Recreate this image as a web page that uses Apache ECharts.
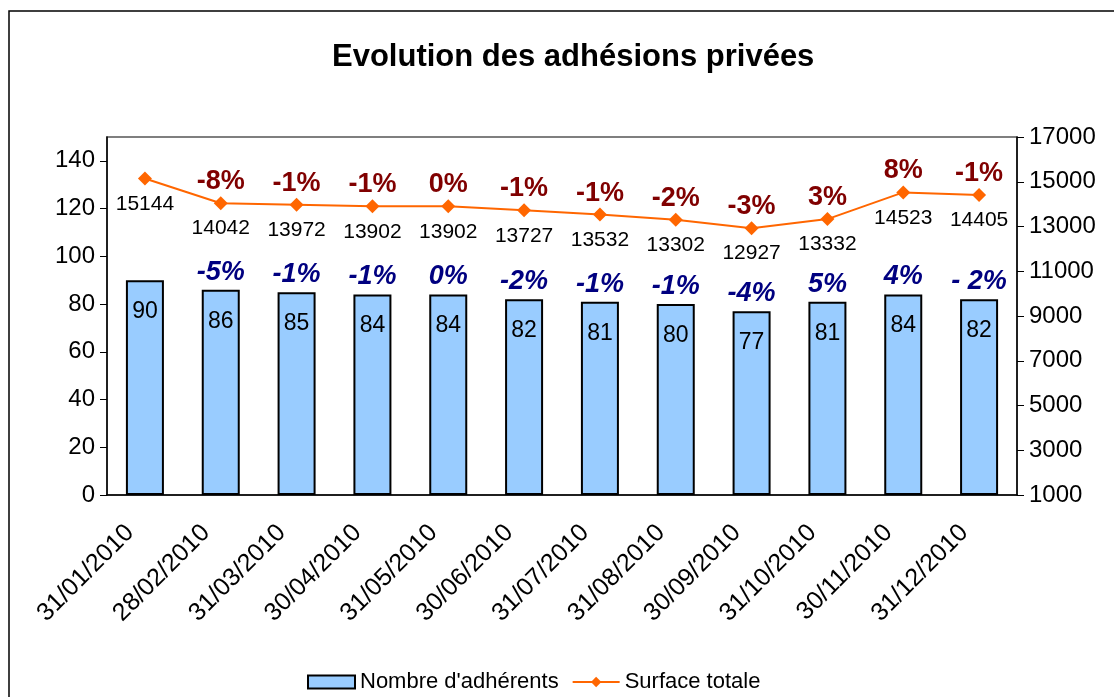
<!DOCTYPE html>
<html>
<head>
<meta charset="utf-8">
<script src="https://cdn.jsdelivr.net/npm/echarts@6/dist/echarts.min.js"></script>
<style>
  html, body { margin: 0; padding: 0; background: #fff; }
</style>
</head>
<body>
<div id="main" style="width: 1114px;height:697px;"></div>
<script>
// données du graphique
var dates = ['31/01/2010', '28/02/2010', '31/03/2010', '30/04/2010', '31/05/2010', '30/06/2010',
  '31/07/2010', '31/08/2010', '30/09/2010', '31/10/2010', '30/11/2010', '31/12/2010'];
var adherents = [90, 86, 85, 84, 84, 82, 81, 80, 77, 81, 84, 82];
var adherentsPct = ['', '-5%', '-1%', '-1%', '0%', '-2%', '-1%', '-1%', '-4%', '5%', '4%', '- 2%'];
var surface = [15144, 14042, 13972, 13902, 13902, 13727, 13532, 13302, 12927, 13332, 14523, 14405];
var surfacePct = ['', '-8%', '-1%', '-1%', '0%', '-1%', '-1%', '-2%', '-3%', '3%', '8%', '-1%'];
var leftTicks = [0, 20, 40, 60, 80, 100, 120, 140];
var rightTicks = [1000, 3000, 5000, 7000, 9000, 11000, 13000, 15000, 17000];

var font = 'Liberation Sans, Arial, sans-serif';
var myChart = echarts.init(document.getElementById('main'));

var option = {
  animation: false,
  title: {
    text: 'Evolution des adhésions privées',
    left: 327,
    top: 37,
    textStyle: { fontSize: 31, fontWeight: 'bold', fontFamily: font, color: '#000' }
  },
  graphic: [{
    type: 'rect',
    shape: { x: 9, y: 11, width: 1130, height: 720 },
    style: { fill: 'none', stroke: '#000', lineWidth: 1.5 },
    silent: true
  }],
  legend: {
    data: [{ name: "Nombre d'adhérents", icon: 'rect' }, 'Surface totale'],
    left: 302,
    top: 666,
    itemWidth: 47,
    itemHeight: 13,
    itemGap: 13,
    textStyle: { fontSize: 22, fontFamily: font, color: '#000' }
  },
  grid: {
    left: 107,
    right: 97,
    top: 137,
    bottom: 202,
    show: true,
    borderColor: '#555',
    borderWidth: 1.5
  },
  xAxis: {
    type: 'category',
    data: dates,
    axisLine: { lineStyle: { color: '#000', width: 1.5 } },
    axisTick: { length: 9, lineStyle: { color: '#000' } },
    axisLabel: {
      rotate: 45,
      margin: 19,
      padding: [0, 21, 0, 0],
      fontSize: 25,
      fontFamily: font,
      color: '#000'
    }
  },
  yAxis: [
    {
      type: 'value',
      min: 0,
      max: 150,
      position: 'left',
      splitLine: { show: false },
      axisLine: { show: true, lineStyle: { color: '#000', width: 1.5 } },
      axisTick: { show: true, length: 7, customValues: leftTicks, lineStyle: { color: '#000' } },
      axisLabel: { customValues: leftTicks, fontSize: 24, fontFamily: font, color: '#000', margin: 12 }
    },
    {
      type: 'value',
      min: 1000,
      max: 17000,
      position: 'right',
      splitLine: { show: false },
      axisLine: { show: true, lineStyle: { color: '#000', width: 1.5 } },
      axisTick: { show: true, length: 7, customValues: rightTicks, lineStyle: { color: '#000' } },
      axisLabel: {
        customValues: rightTicks,
        formatter: function (v) { return String(v); },
        fontSize: 24, fontFamily: font, color: '#000', margin: 12
      }
    }
  ],
  series: [
    {
      name: "Nombre d'adhérents",
      type: 'bar',
      data: adherents,
      yAxisIndex: 0,
      barWidth: 38,
      itemStyle: { color: '#99CCFF', borderColor: '#000', borderWidth: 2 },
      label: {
        show: true,
        position: 'insideTop',
        distance: 20,
        fontSize: 23,
        fontFamily: font,
        color: '#000'
      }
    },
    {
      name: 'pctBar',
      type: 'bar',
      data: adherents,
      yAxisIndex: 0,
      barWidth: 38,
      barGap: '-100%',
      silent: true,
      itemStyle: { color: 'transparent' },
      label: {
        show: true,
        position: 'top',
        distance: 4,
        fontSize: 27,
        fontWeight: 'bold',
        fontStyle: 'italic',
        fontFamily: font,
        color: '#000080',
        formatter: function (p) { return adherentsPct[p.dataIndex]; }
      }
    },
    {
      name: 'Surface totale',
      type: 'line',
      data: surface,
      yAxisIndex: 1,
      symbol: 'diamond',
      symbolSize: 14,
      color: '#FF6600',
      lineStyle: { color: '#FF6600', width: 2 },
      itemStyle: { color: '#FF6600' },
      label: {
        show: true,
        position: 'bottom',
        distance: 8,
        fontSize: 21,
        fontFamily: font,
        color: '#000'
      }
    },
    {
      name: 'pctLine',
      type: 'line',
      data: surface,
      yAxisIndex: 1,
      symbol: 'circle',
      symbolSize: 2,
      silent: true,
      lineStyle: { opacity: 0 },
      itemStyle: { color: 'transparent' },
      label: {
        show: true,
        position: 'top',
        distance: 7,
        fontSize: 27,
        fontWeight: 'bold',
        fontFamily: font,
        color: '#800000',
        formatter: function (p) { return surfacePct[p.dataIndex]; }
      }
    }
  ]
};

myChart.setOption(option);
</script>
</body>
</html>
